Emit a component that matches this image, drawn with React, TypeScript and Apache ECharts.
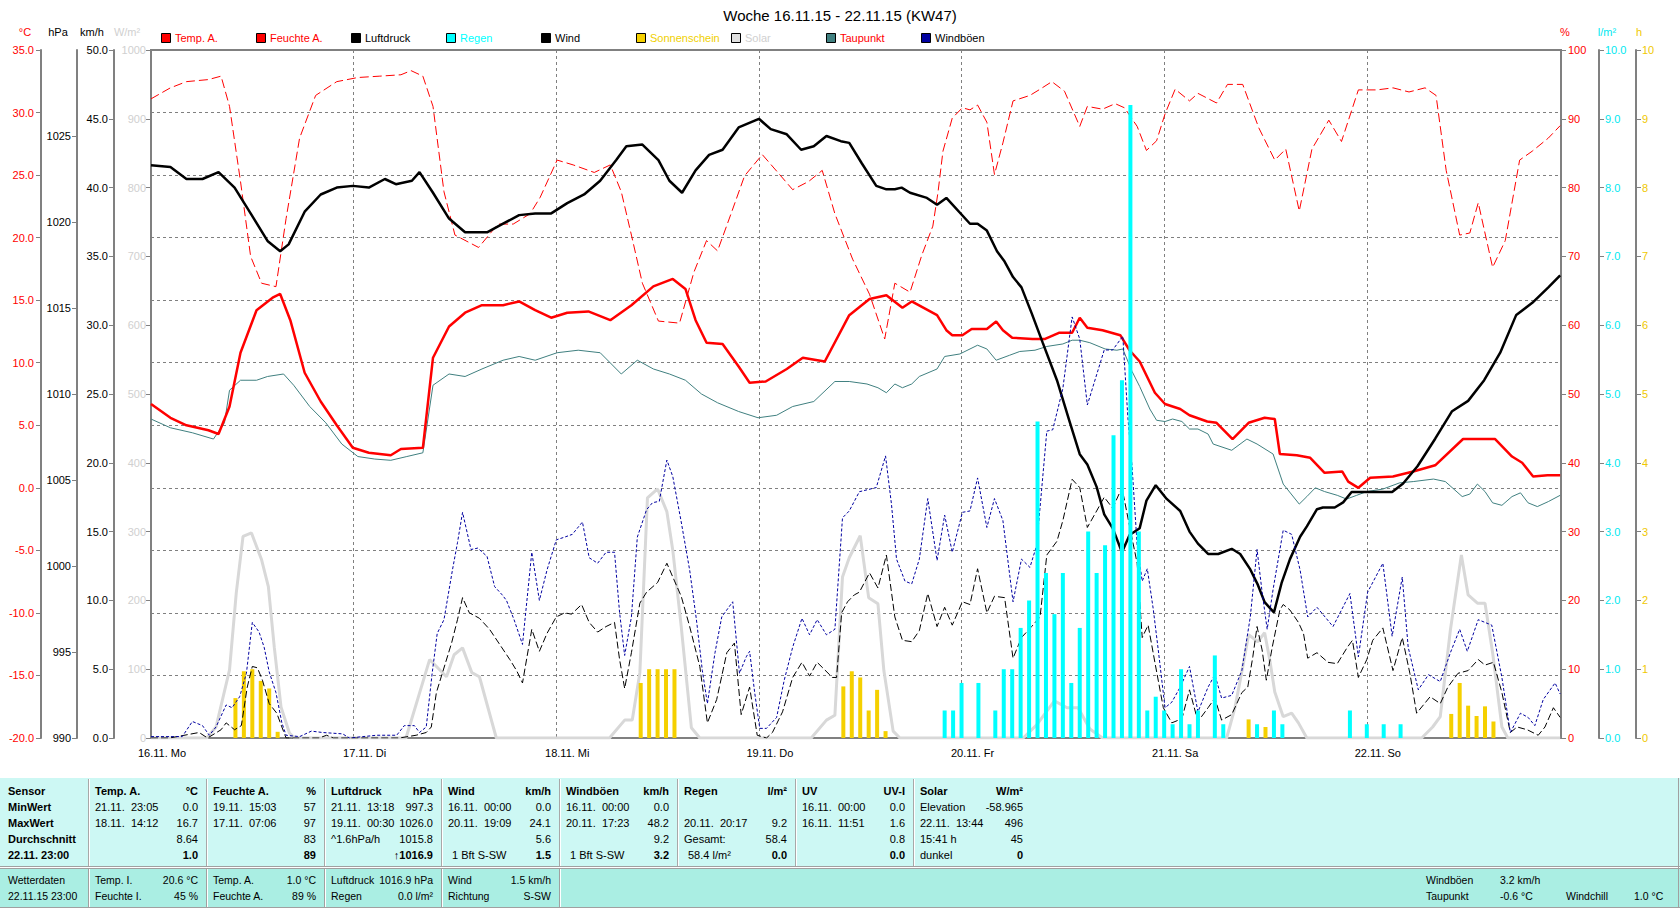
import React, { useEffect, useRef } from 'react';
import * as echarts from 'echarts';

const FONT = '"Liberation Sans", Arial, sans-serif';

// ---------- data (hours since 16.11.15 00:00) ----------
const DAY_LABELS = ['16.11. Mo', '17.11. Di', '18.11. Mi', '19.11. Do', '20.11. Fr', '21.11. Sa', '22.11. So'];

const TEMP_H = [0, 2.3, 4.2, 6.8, 8.0, 9.3, 10.6, 12.5, 14.4, 15.3, 16.5, 18.2, 20.1, 22.0, 23.9, 25.8, 28.4, 29.6, 32.2, 33.4, 35.3, 37.2, 39.2, 41.7, 43.6, 45.5, 47.4, 49.3, 51.8, 54.4, 56.9, 59.5, 61.8, 63.3, 64.5, 65.8, 67.7, 69.6, 70.9, 72.8, 75.3, 77.2, 79.8, 82.7, 85.1, 87.1, 89.0, 90.1, 93.1, 94.2, 94.9, 96.1, 97.2, 99.0, 100.1, 100.9, 102.0, 104.4, 105.9, 107.6, 109.1, 110.0, 110.9, 112.7, 114.8, 115.9, 117.1, 118.9, 120.1, 121.9, 123.0, 125.1, 126.2, 128.1, 130.0, 131.9, 133.1, 133.7, 135.7, 137.3, 139.0, 141.1, 141.8, 143.0, 144.4, 147.1, 149.5, 152.1, 155.4, 159.2, 161.2, 162.4, 163.7, 165.4, 166.9];
const TEMP_V = [6.7, 5.6, 5.0, 4.6, 4.3, 6.5, 10.8, 14.2, 15.2, 15.5, 13.4, 9.2, 6.9, 5.0, 3.2, 2.8, 2.6, 3.1, 3.2, 10.4, 12.9, 14.0, 14.6, 14.6, 14.9, 14.2, 13.6, 14.0, 14.1, 13.4, 14.6, 16.1, 16.7, 15.9, 13.4, 11.6, 11.5, 9.7, 8.4, 8.5, 9.5, 10.4, 10.1, 13.8, 15.1, 15.4, 14.4, 14.9, 13.8, 12.6, 12.2, 12.2, 12.7, 12.7, 13.3, 12.6, 12.0, 11.9, 11.9, 12.4, 12.4, 13.6, 12.8, 12.6, 12.2, 11.0, 10.1, 7.6, 6.7, 6.3, 5.8, 5.3, 5.2, 3.9, 5.2, 5.6, 5.5, 2.7, 2.6, 2.4, 1.2, 1.3, 0.5, 0.0, 0.8, 0.9, 1.3, 1.8, 3.9, 3.9, 2.5, 2.0, 0.9, 1.0, 1.0];

const HUM_H = [0.0, 2.3, 4.2, 6.8, 8.3, 9.3, 10.6, 11.8, 13.1, 14.8, 16.0, 17.6, 19.5, 22.0, 24.5, 27.1, 29.6, 30.8, 32.2, 33.4, 34.7, 36.0, 38.8, 41.1, 42.9, 44.9, 46.1, 48.1, 50.0, 52.5, 54.4, 55.7, 56.9, 58.2, 60.1, 62.6, 64.3, 65.8, 67.1, 68.7, 70.3, 72.4, 74.1, 76.0, 77.9, 79.5, 81.0, 83.1, 85.1, 86.9, 88.1, 89.9, 91.3, 92.6, 93.2, 93.8, 94.9, 96.1, 97.0, 97.9, 99.0, 99.9, 100.9, 102.1, 104.1, 105.3, 106.7, 108.2, 110.0, 110.9, 112.7, 114.2, 115.3, 116.8, 117.9, 119.1, 120.1, 121.3, 123.0, 124.0, 126.2, 127.5, 129.3, 131.2, 133.1, 134.4, 136.0, 137.5, 139.5, 141.0, 143.0, 145.2, 147.1, 149.0, 150.9, 152.2, 153.4, 155.0, 156.2, 157.2, 158.9, 160.4, 162.1, 163.6, 165.5, 166.9];
const HUM_V = [92.9, 94.5, 95.4, 95.7, 96.2, 91.8, 80.9, 70.0, 66.1, 65.6, 75.5, 87.2, 93.4, 95.4, 96.0, 96.2, 96.4, 97.0, 96.2, 91.8, 79.4, 73.1, 71.3, 74.7, 74.7, 76.2, 78.6, 84.0, 83.3, 82.2, 83.3, 79.4, 73.1, 66.1, 60.6, 60.3, 67.7, 72.3, 70.8, 76.2, 81.7, 84.8, 82.4, 79.7, 80.9, 82.5, 76.2, 69.6, 64.5, 58.0, 66.1, 64.8, 70.2, 74.4, 79.2, 85.3, 90.1, 91.6, 91.3, 92.0, 89.5, 81.9, 86.5, 92.6, 93.4, 94.3, 95.4, 94.0, 88.9, 91.8, 91.4, 92.2, 91.6, 88.9, 85.4, 86.8, 90.7, 94.3, 92.6, 93.7, 92.3, 95.0, 95.0, 88.7, 84.0, 85.6, 76.6, 85.6, 89.8, 86.7, 94.2, 94.2, 94.5, 93.9, 94.5, 93.4, 82.5, 73.1, 73.4, 77.8, 68.4, 72.3, 84.0, 85.3, 87.2, 89.0];

const PRES_H = [0.0, 2.3, 4.2, 6.1, 8.0, 9.9, 11.8, 13.8, 15.3, 16.3, 18.2, 20.1, 22.0, 23.9, 25.8, 27.7, 29.0, 30.9, 31.8, 33.4, 35.3, 37.2, 39.8, 41.7, 43.6, 45.5, 47.4, 49.3, 51.3, 53.2, 55.1, 56.3, 58.2, 60.1, 61.4, 62.9, 64.5, 66.1, 67.7, 69.6, 72.0, 73.4, 75.3, 77.0, 78.5, 80.0, 81.7, 82.7, 84.2, 85.9, 87.1, 88.1, 88.9, 89.9, 91.9, 93.1, 94.2, 97.0, 97.9, 99.0, 100.2, 101.1, 102.1, 103.1, 104.3, 105.6, 107.3, 108.8, 110.0, 110.9, 112.0, 112.9, 113.9, 115.0, 115.9, 117.1, 117.9, 119.0, 120.3, 121.9, 123.0, 124.0, 125.2, 126.4, 128.0, 129.0, 130.2, 131.1, 131.9, 133.0, 133.9, 134.9, 136.1, 136.9, 138.1, 138.8, 140.2, 141.2, 142.2, 144.0, 147.0, 148.3, 150.0, 152.1, 154.1, 156.0, 157.9, 159.8, 161.7, 163.6, 165.5, 166.9];
const PRES_V = [1023.3, 1023.2, 1022.5, 1022.5, 1022.9, 1022.0, 1020.5, 1018.9, 1018.3, 1018.7, 1020.6, 1021.6, 1022.0, 1022.1, 1022.0, 1022.5, 1022.2, 1022.4, 1022.9, 1021.7, 1020.2, 1019.4, 1019.4, 1019.9, 1020.4, 1020.5, 1020.5, 1021.1, 1021.6, 1022.4, 1023.6, 1024.4, 1024.5, 1023.6, 1022.4, 1021.7, 1023.0, 1023.9, 1024.2, 1025.5, 1026.0, 1025.4, 1025.1, 1024.2, 1024.4, 1025.0, 1024.7, 1024.6, 1023.4, 1022.1, 1021.9, 1021.9, 1022.0, 1021.7, 1021.4, 1021.0, 1021.4, 1019.9, 1019.9, 1019.5, 1018.3, 1017.7, 1016.8, 1016.2, 1014.7, 1013.0, 1010.8, 1008.4, 1006.5, 1005.9, 1004.6, 1003.0, 1002.2, 1000.8, 1001.8, 1002.2, 1003.8, 1004.7, 1003.9, 1003.2, 1002.0, 1001.3, 1000.7, 1000.7, 1001.0, 1000.7, 999.8, 998.9, 997.9, 997.3, 999.0, 1000.4, 1001.7, 1002.3, 1003.3, 1003.4, 1003.4, 1003.7, 1004.3, 1004.3, 1004.3, 1004.8, 1005.8, 1007.4, 1009.0, 1009.6, 1010.8, 1012.4, 1014.6, 1015.3, 1016.2, 1016.9];

const DEW_H = [0, 2.3, 4.9, 7.4, 8.7, 9.3, 10.6, 12.5, 13.8, 15.7, 16.9, 18.8, 20.7, 22.6, 24.5, 26.5, 28.4, 30.3, 32.2, 33.4, 35.3, 37.2, 39.2, 41.7, 43.6, 45.5, 48.1, 50.6, 53.2, 55.7, 57.6, 59.5, 61.4, 63.3, 65.2, 67.1, 69.6, 71.9, 74.1, 76.0, 78.5, 81.0, 82.7, 84.8, 86.1, 87.1, 88.1, 89.0, 90.1, 91.0, 93.1, 94.0, 95.8, 97.9, 99.0, 100.1, 101.7, 102.9, 104.7, 106.1, 108.0, 109.1, 110.0, 111.2, 113.0, 114.4, 115.1, 116.2, 117.1, 118.3, 119.1, 120.1, 121.0, 122.1, 123.0, 124.0, 125.2, 125.8, 128.0, 129.8, 131.0, 132.9, 134.1, 136.0, 136.9, 137.9, 139.0, 140.5, 141.6, 142.8, 144.0, 145.9, 147.9, 149.5, 151.9, 153.3, 155.3, 156.2, 157.1, 158.0, 158.9, 160.0, 161.2, 162.2, 163.1, 164.2, 165.5, 166.9];
const DEW_V = [5.5, 4.8, 4.4, 3.9, 5.2, 7.8, 8.6, 8.6, 8.9, 9.1, 8.2, 6.5, 5.2, 3.5, 2.5, 2.3, 2.2, 2.5, 2.8, 8.2, 9.1, 8.9, 9.5, 10.2, 10.5, 10.2, 10.8, 11.0, 10.8, 9.1, 10.2, 9.5, 9.1, 8.6, 7.5, 6.8, 6.1, 5.6, 5.8, 6.5, 6.9, 8.5, 8.5, 8.3, 8.0, 7.6, 8.3, 8.0, 8.3, 8.9, 9.5, 10.5, 10.7, 11.4, 11.1, 10.2, 10.6, 10.9, 11.0, 11.3, 11.5, 11.8, 11.8, 11.6, 11.1, 11.0, 11.1, 9.3, 8.1, 6.3, 5.4, 5.3, 5.5, 5.3, 4.7, 4.7, 4.3, 3.5, 3.0, 3.9, 3.5, 2.7, 0.3, -1.3, -0.7, 0.0, -0.3, -0.6, -0.9, -0.6, -0.3, -0.1, 0.4, 0.5, 0.7, 0.5, -0.7, -0.5, 0.3, -0.3, -1.2, -1.4, -0.7, -0.4, -1.2, -1.5, -1.1, -0.6];

const WIND_H = [0, 2.2, 5.7, 6.7, 8.3, 8.9, 9.9, 10.7, 11.4, 12.0, 12.6, 13.2, 14.0, 14.9, 15.5, 16.0, 19.9, 20.8, 21.6, 29.4, 31.4, 32.6, 33.2, 33.8, 34.5, 35.6, 36.3, 36.9, 37.7, 38.9, 40.1, 41.3, 42.5, 43.3, 44.0, 45.1, 46.0, 46.9, 48.0, 49.0, 49.8, 51.0, 51.9, 52.9, 53.9, 54.9, 55.5, 56.1, 56.9, 57.9, 58.7, 60.0, 61.1, 61.8, 62.8, 63.8, 65.0, 65.9, 67.0, 68.2, 69.1, 69.9, 70.9, 71.8, 72.9, 73.6, 74.8, 76.0, 77.1, 78.0, 78.9, 80.7, 81.2, 81.8, 82.5, 83.3, 83.9, 85.1, 86.1, 87.1, 88.1, 89.0, 90.1, 91.0, 92.0, 93.1, 94.0, 94.9, 96.1, 97.0, 97.9, 99.0, 99.9, 101.1, 102.1, 103.1, 104.3, 105.3, 106.1, 107.3, 108.0, 109.1, 110.0, 110.9, 112.0, 112.9, 113.9, 115.0, 115.9, 116.8, 117.4, 118.1, 118.9, 119.9, 120.9, 122.1, 123.0, 124.0, 125.2, 126.0, 126.8, 128.0, 129.2, 129.9, 130.5, 131.0, 131.6, 132.1, 132.8, 133.7, 134.1, 134.9, 135.9, 136.5, 137.0, 138.1, 139.4, 140.5, 141.7, 142.3, 143.0, 144.0, 144.7, 145.9, 147.1, 148.2, 149.1, 149.9, 151.5, 152.7, 153.6, 154.8, 156.0, 157.2, 158.0, 159.0, 160.0, 161.0, 161.8, 163.0, 164.3, 165.1, 166.1, 166.9];
const WIND_V = [0, 0, 0.4, 0, 0.6, 1.1, 0.6, 0.9, 3.7, 5.2, 5.1, 4.2, 2.5, 1.8, 0.8, 0, 0, 0.2, 0, 0, 0.2, 0.4, 0.8, 3.3, 4.7, 6.9, 8.6, 10.2, 9.1, 8.7, 7.9, 6.8, 5.7, 4.9, 4.0, 7.9, 6.3, 7.6, 8.8, 9.1, 9.0, 9.7, 8.4, 7.7, 8.1, 8.4, 5.7, 3.6, 6.2, 9.8, 10.6, 11.3, 12.7, 11.7, 10.3, 8.1, 5.2, 1.1, 2.8, 6.2, 6.9, 1.7, 3.7, 0.2, 0, 0.4, 1.9, 4.4, 5.5, 4.5, 5.5, 4.4, 4.4, 9.1, 9.9, 10.4, 10.6, 12.0, 10.9, 13.3, 8.8, 7.1, 7.0, 7.8, 10.5, 8.1, 9.5, 8.2, 9.9, 9.7, 12.3, 9.1, 10.3, 10.2, 5.8, 7.3, 8.1, 8.8, 13.3, 14.3, 15.8, 18.8, 18.2, 15.3, 16.5, 17.5, 16.7, 18.2, 15.4, 12.7, 7.3, 8.2, 5.5, 2.2, 1.1, 1.4, 3.5, 1.2, 2.2, 2.9, 1.3, 1.7, 3.3, 3.7, 5.9, 8.1, 6.4, 4.2, 6.6, 9.3, 9.7, 9.3, 8.4, 7.6, 5.8, 6.2, 5.5, 5.4, 6.6, 7.1, 4.4, 5.7, 7.1, 8.0, 4.9, 7.3, 4.7, 1.8, 3.0, 2.5, 3.7, 4.7, 4.9, 5.7, 5.3, 5.5, 3.3, 0.4, 0.8, 0.6, 0.2, 0.8, 2.2, 1.5];

const GUST_H = [0, 3.7, 4.9, 6.1, 6.9, 7.7, 8.9, 9.6, 10.5, 11.3, 12.0, 12.8, 13.4, 14.0, 14.8, 15.5, 16.0, 17.6, 19.0, 20.3, 22.7, 23.5, 26.7, 29.1, 30.0, 31.2, 31.8, 32.6, 33.3, 33.9, 34.7, 35.7, 36.3, 36.9, 37.9, 38.7, 39.8, 40.7, 41.6, 42.1, 43.0, 44.0, 45.1, 46.0, 46.9, 48.0, 49.0, 49.9, 51.1, 51.9, 52.9, 53.9, 54.9, 55.5, 56.1, 56.9, 57.6, 58.7, 59.4, 60.2, 61.1, 61.8, 62.8, 63.8, 64.6, 65.3, 65.9, 66.8, 67.6, 68.9, 69.7, 70.5, 70.9, 71.5, 72.1, 72.9, 74.1, 75.0, 76.0, 77.1, 78.0, 78.9, 80.0, 81.0, 81.9, 82.7, 83.9, 85.9, 87.0, 87.7, 88.3, 89.3, 90.1, 91.0, 92.0, 93.1, 94.0, 94.9, 96.1, 97.0, 97.9, 99.0, 99.9, 100.9, 102.1, 103.1, 104.1, 104.9, 106.1, 106.8, 108.0, 109.1, 110.0, 110.9, 112.9, 113.9, 115.1, 115.7, 116.2, 116.8, 117.4, 118.0, 118.7, 119.3, 120.1, 120.9, 121.9, 123.0, 124.0, 125.2, 126.0, 126.8, 128.0, 129.2, 130.2, 131.0, 131.6, 132.2, 132.9, 134.1, 135.1, 136.1, 137.0, 138.1, 140.0, 142.0, 143.0, 144.1, 145.9, 147.0, 148.2, 148.9, 150.1, 151.3, 152.7, 153.9, 155.0, 155.9, 157.2, 158.8, 160.0, 161.0, 162.2, 163.1, 163.9, 164.9, 166.3, 166.9];
const GUST_V = [0.1, 0.1, 1.2, 0.9, 0.2, 0.8, 2.4, 2.2, 3.0, 4.7, 8.4, 7.7, 6.6, 4.8, 3.3, 1.1, 0.2, 0.1, 0.5, 0.4, 0.3, 0, 0.2, 0.2, 0.9, 0.9, 0.4, 0.8, 4.7, 7.6, 8.6, 12.2, 14.2, 16.4, 13.7, 13.8, 13.2, 11.0, 10.4, 10.0, 8.6, 6.8, 13.5, 10.0, 12.2, 14.4, 14.6, 14.8, 15.7, 13.1, 12.7, 13.5, 13.5, 9.1, 6.0, 8.8, 14.6, 16.6, 17.1, 17.2, 20.2, 19.0, 15.7, 12.2, 8.6, 4.9, 2.5, 6.2, 8.8, 9.9, 4.7, 5.9, 6.3, 3.3, 0.7, 0.7, 1.5, 4.2, 6.6, 8.7, 7.5, 8.6, 7.5, 7.9, 16.0, 16.5, 17.9, 18.2, 20.5, 17.0, 13.0, 11.4, 11.2, 13.0, 17.4, 12.9, 16.2, 13.5, 16.4, 16.5, 18.9, 15.3, 17.4, 15.8, 9.9, 13.0, 12.4, 14.0, 22.3, 22.4, 25.4, 30.6, 29.0, 24.2, 28.2, 28.2, 29.2, 23.3, 19.7, 14.0, 11.4, 12.3, 9.4, 6.4, 2.2, 2.6, 3.7, 5.2, 1.9, 3.7, 4.6, 2.9, 3.1, 4.9, 8.8, 13.7, 10.6, 7.9, 10.8, 15.1, 14.8, 12.2, 8.8, 9.5, 8.1, 10.5, 5.9, 10.6, 12.7, 7.4, 11.7, 6.6, 3.5, 4.6, 4.1, 6.2, 7.9, 6.3, 8.6, 8.2, 4.4, 0.4, 1.8, 1.5, 0.9, 2.8, 4.0, 3.2];

const SOLAR_H = [0, 6.6, 7.7, 9.3, 10.1, 10.9, 11.9, 13.1, 13.9, 14.6, 15.4, 16.4, 17.0, 30.2, 33.0, 35.0, 35.9, 36.9, 38.0, 38.9, 40.9, 54.3, 56.1, 57.0, 57.9, 58.8, 60.0, 61.1, 61.8, 62.8, 64.0, 65.0, 78.2, 80.0, 81.0, 81.9, 82.7, 84.0, 85.0, 86.1, 86.8, 87.9, 88.7, 103.3, 104.9, 107.0, 108.5, 109.8, 111.2, 112.7, 127.4, 128.4, 129.3, 130.0, 131.1, 131.9, 132.5, 133.1, 134.1, 135.1, 135.9, 136.9, 150.5, 151.8, 152.7, 153.9, 155.2, 156.0, 157.1, 158.0, 158.9, 160.0, 160.7, 166.9];
const SOLAR_V = [0, 0, 16, 99, 211, 293, 298, 259, 220, 132, 45, 7, 0, 0, 114, 89, 121, 131, 95, 89, 0, 0, 26, 26, 95, 349, 362, 329, 273, 162, 15, 0, 0, 26, 33, 234, 262, 294, 204, 195, 98, 10, 0, 0, 19, 54, 44, 44, 13, 0, 0, 45, 103, 150, 140, 153, 114, 67, 31, 36, 22, 0, 0, 16, 31, 157, 266, 208, 196, 196, 124, 16, 0, 0];

const SUN_H = [10, 11, 12, 13, 14, 15, 58, 59, 60, 61, 62, 82, 83, 84, 85, 86, 87, 130, 131, 132, 154, 155, 156, 157, 158, 159];
const SUN_V = [0.58, 0.97, 1.0, 0.83, 0.72, 0.09, 0.8, 1.0, 1.0, 1.0, 1.0, 0.75, 0.97, 0.88, 0.4, 0.7, 0.1, 0.27, 0.16, 0.16, 0.35, 0.8, 0.47, 0.32, 0.46, 0.24];

const RAIN_H = [94, 95, 96, 98, 100, 101, 102, 103, 104, 105, 106, 107, 108, 109, 110, 111, 112, 113, 114, 115, 116, 117, 118, 119, 120, 121, 122, 123, 124, 126, 127, 131, 133, 134, 142, 144, 146, 148];
const RAIN_V = [0.4, 0.4, 0.8, 0.8, 0.4, 1.0, 1.0, 1.6, 2.0, 4.6, 2.4, 1.8, 2.4, 0.8, 1.6, 3.0, 2.4, 2.8, 4.4, 5.2, 9.2, 3.0, 0.4, 0.6, 0.4, 0.2, 1.0, 0.2, 0.4, 1.2, 0.2, 0.2, 0.4, 0.2, 0.4, 0.2, 0.2, 0.2];

const TITLE = 'Woche 16.11.15 - 22.11.15 (KW47)';
const LEGEND_NAMES = ['Temp. A.', 'Feuchte A.', 'Luftdruck', 'Regen', 'Wind', 'Sonnenschein', 'Solar', 'Taupunkt', 'Windböen'];
const LEGEND_BOX = ['#ff0000', '#ff0000', '#000000', '#00ffff', '#000000', '#f5d000', '#e0e0e0', '#408080', '#0000a0'];
const LEGEND_TXT = ['#ff0000', '#ff0000', '#000000', '#00ffff', '#000000', '#f0d000', '#d0d0d0', '#ff0000', '#000000'];

// table
const ROW_LABELS = ['Sensor', 'MinWert', 'MaxWert', 'Durchschnitt', '22.11. 23:00'];
const TABLE_HEAD = [['Temp. A.', '°C'], ['Feuchte A.', '%'], ['Luftdruck', 'hPa'], ['Wind', 'km/h'], ['Windböen', 'km/h'], ['Regen', 'l/m²'], ['UV', 'UV-I'], ['Solar', 'W/m²']];
const TABLE_LEFT = [
  ['21.11.  23:05', '18.11.  14:12', '', ''],
  ['19.11.  15:03', '17.11.  07:06', '', ''],
  ['21.11.  13:18', '19.11.  00:30', '^1.6hPa/h', ''],
  ['16.11.  00:00', '20.11.  19:09', '', '1 Bft S-SW'],
  ['16.11.  00:00', '20.11.  17:23', '', '1 Bft S-SW'],
  ['', '20.11.  20:17', 'Gesamt:', '58.4 l/m²'],
  ['16.11.  00:00', '16.11.  11:51', '', ''],
  ['Elevation', '22.11.  13:44', '15:41 h', 'dunkel'],
];
const TABLE_RIGHT = [
  ['0.0', '16.7', '8.64', '1.0'],
  ['57', '97', '83', '89'],
  ['997.3', '1026.0', '1015.8', '↑1016.9'],
  ['0.0', '24.1', '5.6', '1.5'],
  ['0.0', '48.2', '9.2', '3.2'],
  ['', '9.2', '58.4', '0.0'],
  ['0.0', '1.6', '0.8', '0.0'],
  ['-58.965', '496', '45', '0'],
];
const STATUS_FIRST = ['Wetterdaten', '22.11.15 23:00'];
const STATUS_LEFT = [['Temp. I.', 'Feuchte I.'], ['Temp. A.', 'Feuchte A.'], ['Luftdruck', 'Regen'], ['Wind', 'Richtung']];
const STATUS_RIGHT = [['20.6 °C', '45 %'], ['1.0 °C', '89 %'], ['1016.9 hPa', '0.0 l/m²'], ['1.5 km/h', 'S-SW']];
const STATUS_EXTRA = [['Windböen', '3.2 km/h', '', ''], ['Taupunkt', '-0.6 °C', 'Windchill', '1.0 °C']];

const zip = (h: number[], v: number[]) => h.map((x, i) => [x, v[i]]);

function txt(x: number, y: number, text: string, opts: any = {}) {
  const font = `${opts.bold ? 'bold ' : ''}${opts.size || 11}px ${FONT}`;
  const align = opts.align || 'left';
  return {
    type: 'text', x, y, silent: true, z: 100,
    style: { text, font, fill: opts.color || '#000', align, verticalAlign: 'middle', textAlign: align, textVerticalAlign: 'middle' },
  };
}
function hl(x1: number, x2: number, y: number, c: string) {
  return { type: 'line', silent: true, z: 99, shape: { x1, y1: y, x2, y2: y }, style: { stroke: c, lineWidth: 1 } };
}
function vl(x: number, y1: number, y2: number, c: string) {
  return { type: 'line', silent: true, z: 99, shape: { x1: x, y1, x2: x, y2 }, style: { stroke: c, lineWidth: 1 } };
}

function buildGraphic() {
  const g: any[] = [];
  g.push(txt(840, 15, TITLE, { size: 15, align: 'center' }));
  LEGEND_NAMES.forEach((n, i) => {
    const x = 161 + i * 95;
    g.push({ type: 'rect', silent: true, shape: { x: x + 0.5, y: 33.5, width: 9, height: 9 }, style: { fill: LEGEND_BOX[i], stroke: '#000', lineWidth: 1 } });
    g.push(txt(x + 14, 38, n, { color: LEGEND_TXT[i] }));
  });
  // axis units
  g.push(txt(25, 32, '°C', { color: '#ff0000', align: 'center' }));
  g.push(txt(58, 32, 'hPa', { align: 'center' }));
  g.push(txt(92, 32, 'km/h', { align: 'center' }));
  g.push(txt(127, 32, 'W/m²', { color: '#d0d0d0', align: 'center' }));
  g.push(txt(1565, 32, '%', { color: '#ff0000', align: 'center' }));
  g.push(txt(1607, 32, 'l/m²', { color: '#00e8f0', align: 'center' }));
  g.push(txt(1639, 32, 'h', { color: '#f0c800', align: 'center' }));

  // table
  g.push({ type: 'rect', silent: true, z: 98, shape: { x: 0, y: 778, width: 1680, height: 88 }, style: { fill: '#cdf8f4' } });
  g.push({ type: 'rect', silent: true, z: 98, shape: { x: 0, y: 869, width: 1680, height: 38 }, style: { fill: '#aaeee3' } });
  g.push(hl(0, 1680, 866.5, '#a0a0a0'));
  g.push(hl(0, 1680, 867.5, '#ffffff'));
  g.push(hl(0, 1680, 868.5, '#a0a0a0'));
  g.push(hl(0, 1680, 907.5, '#a0a0a0'));
  g.push(vl(1678.5, 778, 908, '#a0a0a0'));
  const COLS = [0, 88, 206, 324, 441, 559, 677, 795, 913, 1031];
  for (let c = 1; c <= 8; c++) {
    g.push(vl(COLS[c] + 0.5, 779, 866, '#a8a8a8'));
    g.push(vl(COLS[c] + 1.5, 779, 866, '#ffffff'));
  }
  for (let c = 1; c <= 5; c++) {
    g.push(vl(COLS[c] + 0.5, 869, 907, '#a0a0a0'));
    g.push(vl(COLS[c] + 1.5, 869, 907, '#ffffff'));
  }
  const ROWS = [791, 807, 823, 839, 855];
  ROW_LABELS.forEach((l, r) => g.push(txt(8, ROWS[r], l, { bold: true })));
  TABLE_HEAD.forEach((h, c) => {
    const lx = COLS[c + 1] + 7;
    const rx = COLS[c + 2] - 8;
    g.push(txt(lx, ROWS[0], h[0], { bold: true }));
    g.push(txt(rx, ROWS[0], h[1], { bold: true, align: 'right' }));
    for (let r = 0; r < 4; r++) {
      const left = TABLE_LEFT[c][r];
      const right = TABLE_RIGHT[c][r];
      const indent = r === 3 && c >= 3 && c <= 5 ? 4 : 0;
      if (left) g.push(txt(lx + indent, ROWS[r + 1], left));
      if (right) g.push(txt(rx, ROWS[r + 1], right, { bold: r === 3, align: 'right' }));
    }
  });
  const SROWS = [880, 896];
  STATUS_FIRST.forEach((s, r) => g.push(txt(8, SROWS[r], s, { size: 10.5 })));
  STATUS_LEFT.forEach((col, c) => {
    col.forEach((s, r) => g.push(txt(COLS[c + 1] + 7, SROWS[r], s, { size: 10.5 })));
    STATUS_RIGHT[c].forEach((s, r) => g.push(txt(COLS[c + 2] - 8, SROWS[r], s, { align: 'right', size: 10.5 })));
  });
  const EX = [1426, 1500, 1566, 1634];
  STATUS_EXTRA.forEach((row, r) => row.forEach((s, k) => { if (s) g.push(txt(EX[k], SROWS[r], s, { size: 10.5 })); }));
  return g;
}

function yAx(extra: any) {
  return {
    type: 'value',
    axisLine: { show: true, onZero: false, lineStyle: { color: '#808080', width: 2 } },
    axisTick: { show: true, length: 5, lineStyle: { color: '#808080', width: 1 } },
    splitLine: { show: false },
    ...extra,
    axisLabel: { fontFamily: FONT, fontSize: 11, margin: 7, ...(extra.axisLabel || {}) },
  };
}

function buildOption() {
  const line = (name: string, yi: number, h: number[], v: number[], ls: any, z: number) => ({
    type: 'line', name, yAxisIndex: yi, data: zip(h, v), symbol: 'none', showSymbol: false,
    lineStyle: ls, z, silent: true, animation: false,
  });
  return {
    animation: false,
    backgroundColor: '#ffffff',
    textStyle: { fontFamily: FONT },
    grid: { left: 151, right: 119, top: 50, bottom: 171, show: true, borderColor: '#808080', borderWidth: 2, backgroundColor: 'transparent', containLabel: false, outerBoundsMode: 'none' },
    xAxis: {
      type: 'value', min: 0, max: 167, interval: 24,
      axisLine: { show: false }, axisTick: { show: false },
      splitLine: { show: true, lineStyle: { color: '#808080', type: [3, 3], width: 1 } },
      axisLabel: {
        fontFamily: FONT, fontSize: 11, color: '#000', margin: 9, align: 'center', padding: [0, 0, 0, 22],
        showMinLabel: true, showMaxLabel: true,
        formatter: (v: number) => (v % 24 === 0 && v / 24 < DAY_LABELS.length ? DAY_LABELS[v / 24] : ''),
      },
    },
    yAxis: [
      yAx({ position: 'left', offset: 110, min: -20, max: 35, interval: 5,
        splitLine: { show: true, lineStyle: { color: '#808080', type: [3, 3], width: 1 } },
        axisLabel: { color: '#ff0000', formatter: (v: number) => v.toFixed(1) } }),
      yAx({ position: 'left', offset: 74, min: 990, max: 1030, interval: 5,
        axisLabel: { color: '#000', margin: 6, showMaxLabel: false, formatter: (v: number) => String(v) } }),
      yAx({ position: 'left', offset: 37, min: 0, max: 50, interval: 5,
        axisLabel: { color: '#000', margin: 6, formatter: (v: number) => v.toFixed(1) } }),
      yAx({ position: 'left', offset: 0, min: 0, max: 1000, interval: 100,
        axisLabel: { color: '#d0d0d0', margin: 5, formatter: (v: number) => String(v) } }),
      yAx({ position: 'right', offset: 0, min: 0, max: 100, interval: 10,
        axisLabel: { color: '#ff0000', margin: 7, formatter: (v: number) => String(v) } }),
      yAx({ position: 'right', offset: 38, min: 0, max: 10, interval: 1,
        axisLabel: { color: '#00e8f0', margin: 6, formatter: (v: number) => v.toFixed(1) } }),
      yAx({ position: 'right', offset: 75, min: 0, max: 10, interval: 1,
        axisLabel: { color: '#f0c800', margin: 6, formatter: (v: number) => String(v) } }),
    ],
    series: [
      line('Solar', 3, SOLAR_H, SOLAR_V, { color: '#d8d8d8', width: 3 }, 1),
      { type: 'bar', name: 'Sonnenschein', yAxisIndex: 6, data: zip(SUN_H, SUN_V), barWidth: 4, barGap: '-100%', itemStyle: { color: '#f5d000' }, z: 2, silent: true },
      line('Taupunkt', 0, DEW_H, DEW_V, { color: '#408080', width: 1 }, 3),
      line('Feuchte A.', 4, HUM_H, HUM_V, { color: '#ff0000', width: 1, type: [9, 4] }, 4),
      line('Temp. A.', 0, TEMP_H, TEMP_V, { color: '#ff0000', width: 2.5 }, 5),
      line('Luftdruck', 1, PRES_H, PRES_V, { color: '#000000', width: 2.5 }, 6),
      line('Wind', 2, WIND_H, WIND_V, { color: '#000000', width: 1, type: [7, 3] }, 7),
      line('Windböen', 2, GUST_H, GUST_V, { color: '#0000a0', width: 1, type: [3, 2] }, 8),
      { type: 'bar', name: 'Regen', yAxisIndex: 5, data: zip(RAIN_H, RAIN_V), barWidth: 4, barGap: '-100%', itemStyle: { color: '#00ffff' }, z: 9, silent: true },
    ],
    graphic: { elements: buildGraphic() },
  };
}

export default function App() {
  const ref = useRef<HTMLDivElement>(null);
  useEffect(() => {
    if (!ref.current) return;
    const chart = echarts.init(ref.current, undefined, { renderer: 'svg' });
    chart.setOption(buildOption() as any);
    return () => chart.dispose();
  }, []);
  return <div ref={ref} style={{ position: 'fixed', left: 0, top: 0, width: 1680, height: 909, background: '#ffffff' }} />;
}
